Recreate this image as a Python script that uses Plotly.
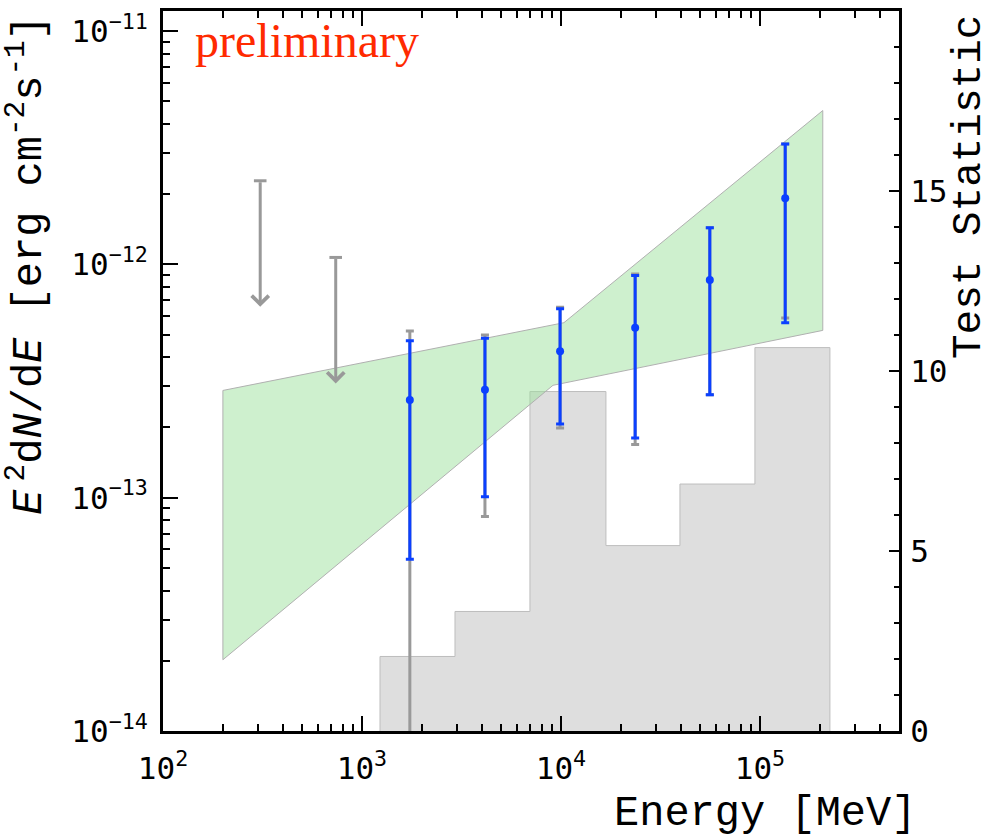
import numpy as np
import plotly.graph_objects as go

# Spectral points: energy [MeV], E^2 dN/dE [erg cm^-2 s^-1]
energy = [1.74e3, 4.15e3, 9.9e3, 2.36e4, 5.6e4, 1.34e5]
flux = [2.62e-13, 2.90e-13, 4.24e-13, 5.35e-13, 8.56e-13, 1.92e-12]
# statistical error bounds (blue)
flux_stat_lo = [5.45e-14, 1.01e-13, 2.07e-13, 1.80e-13, 2.76e-13, 5.62e-13]
flux_stat_hi = [4.70e-13, 4.82e-13, 6.45e-13, 8.95e-13, 1.435e-12, 3.28e-12]
# total error bounds (grey), 0 means the bar reaches the bottom of the axis
flux_tot_lo = [0.0, 8.31e-14, 1.99e-13, 1.69e-13, 2.76e-13, 5.89e-13]
flux_tot_hi = [5.18e-13, 4.98e-13, 6.54e-13, 9.08e-13, 1.435e-12, 3.28e-12]

# upper limits
ul_energy = [308.0, 738.0]
ul_flux = [2.28e-12, 1.07e-12]

# power-law fit uncertainty band (butterfly)
band_energy_upper = [200.0, 1.035e4, 2.07e5]
band_flux_upper = [2.88e-13, 5.62e-13, 4.56e-12]
band_energy_lower = [200.0, 9.12e3, 2.07e5]
band_flux_lower = [2.02e-14, 3.03e-13, 5.21e-13]

# TS per energy bin
ts_edges = [1232.0, 2934.0, 6985.0, 16830.0, 39630.0, 94360.0, 224800.0]
ts_values = [2.07, 3.32, 9.43, 5.15, 6.86, 10.65]

# axis tick labels
x_tickvals = [1e2, 1e3, 1e4, 1e5]
x_ticktext = ["10<sup>2</sup>", "10<sup>3</sup>", "10<sup>4</sup>", "10<sup>5</sup>"]
y_tickvals = [1e-14, 1e-13, 1e-12, 1e-11]
y_ticktext = ["10<sup>\u221214</sup>", "10<sup>\u221213</sup>",
              "10<sup>\u221212</sup>", "10<sup>\u221211</sup>"]
ts_tickvals = [0, 5, 10, 15]

BLUE = "#0b40ff"
GREY = "#999999"
TICKFONT = dict(family="DejaVu Sans Mono", size=31, color="black")
TITLEFONT = dict(family="Liberation Mono", size=42, color="black")

fig = go.Figure()

# TS histogram as a closed step outline
hx = [ts_edges[0]] + list(ts_edges) + [ts_edges[-1]]
hy = [0.0] + list(ts_values) + [ts_values[-1], 0.0]
fig.add_trace(go.Scatter(
    x=hx, y=hy, mode="lines", yaxis="y",
    line=dict(shape="hv", color="#bdbdbd", width=1),
    fill="toself", fillcolor="#dedede",
    hoverinfo="skip", showlegend=False))

# butterfly band
bx = band_energy_upper + band_energy_lower[::-1] + band_energy_upper[:1]
by = band_flux_upper + band_flux_lower[::-1] + band_flux_upper[:1]
fig.add_trace(go.Scatter(
    x=bx, y=by, mode="lines", yaxis="y2",
    line=dict(color="#b0b0b0", width=1),
    fill="toself", fillcolor="rgba(157,225,157,0.5)",
    hoverinfo="skip", showlegend=False))

# total errors (grey)
fig.add_trace(go.Scatter(
    x=energy, y=flux, mode="markers", yaxis="y2",
    marker=dict(size=1, color="rgba(0,0,0,0)"),
    error_y=dict(type="data", symmetric=False,
                 array=[h - f for h, f in zip(flux_tot_hi, flux)],
                 arrayminus=[f - l for f, l in zip(flux, flux_tot_lo)],
                 color=GREY, thickness=3, width=4),
    hoverinfo="skip", showlegend=False))

# statistical errors and points (blue)
fig.add_trace(go.Scatter(
    x=energy, y=flux, mode="markers", yaxis="y2",
    marker=dict(size=8, color=BLUE),
    error_y=dict(type="data", symmetric=False,
                 array=[h - f for h, f in zip(flux_stat_hi, flux)],
                 arrayminus=[f - l for f, l in zip(flux, flux_stat_lo)],
                 color=BLUE, thickness=3, width=4),
    showlegend=False))

# upper-limit caps
fig.add_trace(go.Scatter(
    x=ul_energy, y=ul_flux, mode="markers", yaxis="y2",
    marker=dict(symbol="line-ew", size=9, line=dict(color=GREY, width=3)),
    hoverinfo="skip", showlegend=False))

annotations = []
ARROW_DEC = 0.54  # arrow length in decades
for e, u in zip(ul_energy, ul_flux):
    annotations.append(dict(
        x=np.log10(e), y=np.log10(u) - ARROW_DEC, xref="x", yref="y2",
        ax=np.log10(e), ay=np.log10(u), axref="x", ayref="y2",
        text="", showarrow=True, arrowhead=4, arrowsize=1.1,
        arrowwidth=3, arrowcolor=GREY, standoff=0, startstandoff=0))

annotations.append(dict(
    text="preliminary", xref="paper", yref="paper", x=0.041, y=0.959,
    xanchor="left", yanchor="middle", showarrow=False,
    font=dict(family="Liberation Serif", size=48, color="#ff2a00")))

annotations.append(dict(
    text="<i>E</i>\u2009<sup>2</sup>d<i>N</i>/d<i>E</i> [erg cm<sup>-2</sup>s<sup>-1</sup>]",
    xref="paper", yref="paper", x=-0.185, y=0.997,
    xanchor="center", yanchor="top", textangle=-90, showarrow=False,
    font=TITLEFONT))

annotations.append(dict(
    text="Energy [MeV]", xref="paper", yref="paper", x=1.026, y=-0.115,
    xanchor="right", yanchor="middle", showarrow=False, font=TITLEFONT))

annotations.append(dict(
    text="Test Statistic", xref="paper", yref="paper", x=1.095, y=0.997,
    xanchor="center", yanchor="top", textangle=-90, showarrow=False,
    font=dict(family="Liberation Mono", size=41, color="black")))

x_minor = [k * 10.0 ** n for n in range(2, 6) for k in range(2, 10)]
y_minor = [k * 10.0 ** n for n in range(-14, -10) for k in range(2, 10)]

fig.update_layout(
    width=992, height=839,
    margin=dict(l=163, r=93, t=8, b=108),
    paper_bgcolor="white", plot_bgcolor="white",
    showlegend=False,
    annotations=annotations,
    xaxis=dict(
        type="log", range=[2, np.log10(5e5)],
        showline=True, linewidth=3, linecolor="black", mirror="ticks",
        ticks="inside", ticklen=15, tickwidth=2, tickcolor="black",
        tickmode="array", tickvals=x_tickvals, ticktext=x_ticktext,
        tickfont=TICKFONT, ticklabelstandoff=8,
        minor=dict(tickmode="array", tickvals=x_minor, ticks="inside",
                   ticklen=7, tickwidth=1.5, tickcolor="black", showgrid=False),
        showgrid=False, zeroline=False, anchor="y"),
    yaxis=dict(
        side="right", range=[0, 20],
        showline=True, linewidth=3, linecolor="black",
        ticks="inside", ticklen=10, tickwidth=2, tickcolor="black",
        tickmode="array", tickvals=ts_tickvals,
        tickfont=TICKFONT, ticklabelstandoff=2,
        minor=dict(dtick=1, ticks="inside", ticklen=5, tickwidth=1.5,
                   tickcolor="black", showgrid=False),
        showgrid=False, zeroline=False, anchor="x"),
    yaxis2=dict(
        type="log", range=[-14, -10.9145], overlaying="y", side="left",
        showline=True, linewidth=3, linecolor="black",
        ticks="inside", ticklen=15, tickwidth=2, tickcolor="black",
        tickmode="array", tickvals=y_tickvals, ticktext=y_ticktext,
        tickfont=TICKFONT, ticklabelstandoff=6,
        minor=dict(tickmode="array", tickvals=y_minor, ticks="inside",
                   ticklen=7, tickwidth=1.5, tickcolor="black", showgrid=False),
        showgrid=False, zeroline=False, anchor="x"),
)

fig.write_html("out.html")
